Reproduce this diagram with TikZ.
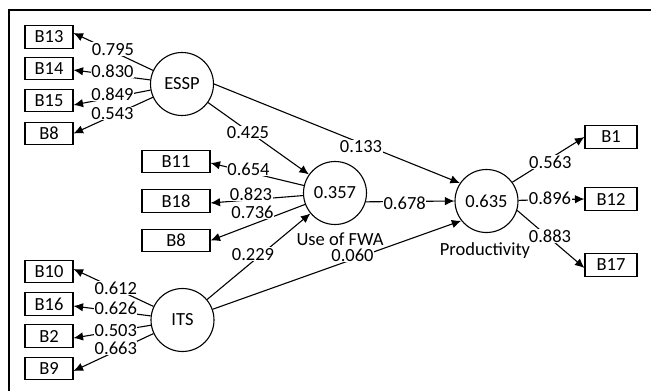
\documentclass[tikz,border=0pt]{standalone}
\usepackage{fontspec}
\setmainfont{Carlito}
\usetikzlibrary{arrows.meta}
\begin{document}
\begin{tikzpicture}[x=1pt,y=-1pt,
  every node/.style={font=\fontsize{18.5}{20}\selectfont},
  box/.style={draw,line width=1.1pt,minimum width=48pt,minimum height=22.5pt,inner sep=0pt},
  lv/.style={draw,circle,line width=1.1pt,minimum size=63pt,inner sep=0pt},
  con/.style={line width=1.1pt,-{Latex[length=9.5pt,width=8.5pt]}},
  lbl/.style={fill=white,inner sep=0.6pt,anchor=base}]
\useasboundingbox (0,0) rectangle (651,391);
\draw[line width=1.1pt] (9,391) -- (9,10) -- (651,10);
% indicators and latent variables
\node[box] (B13) at (49,37) {B13};
\node[box] (B14) at (49,68.5) {B14};
\node[box] (B15) at (49,100.5) {B15};
\node[box] (B8a) at (49,133.5) {B8};
\node[lv] (ESSP) at (182,84) {ESSP};
\node[box,minimum width=68pt] (B11) at (176,161.5) {B11};
\node[box,minimum width=68pt] (B18) at (176,201) {B18};
\node[box,minimum width=68pt] (B8b) at (176,240.5) {B8};
\node[lv] (UFWA) at (335,193) {0.357};
\node[lv] (PROD) at (486.5,201) {0.635};
\node[lv] (ITS) at (182.5,320) {ITS};
\node[box] (B10) at (49,271.5) {B10};
\node[box] (B16) at (49,304) {B16};
\node[box] (B2) at (49,336) {B2};
\node[box] (B9) at (49,368.5) {B9};
\node[box,minimum width=52pt] (B1) at (611,137) {B1};
\node[box,minimum width=52pt] (B12) at (611,199) {B12};
\node[box,minimum width=52pt] (B17) at (611,265) {B17};
\node[anchor=base] (uname) at (340,245) {Use of FWA};
\node[anchor=base] (pname) at (485,255) {Productivity};
% connectors
\draw[con] (ESSP) -- ([yshift=4pt]B13.east);
\draw[con] (ESSP) -- ([yshift=-1.5pt]B14.east);
\draw[con] (ESSP) -- ([yshift=-4.5pt]B15.east);
\draw[con] (ESSP) -- (B8a.east);
\draw[con] (ESSP) -- (UFWA);
\draw[con] (ESSP.east) -- (PROD.146);
\draw[con] (UFWA) -- ([yshift=-1.5pt]B11.east);
\draw[con] (UFWA) -- ([yshift=-2pt]B18.east);
\draw[con] (UFWA) -- (B8b.east);
\draw[con] (UFWA.-16) -- (PROD.west);
\draw[con] (ITS) -- (UFWA);
\draw[con] (ITS) -- (PROD.218);
\draw[con] (ITS) -- ([yshift=2.5pt]B10.east);
\draw[con] (ITS) -- ([yshift=-2pt]B16.east);
\draw[con] (ITS) -- ([yshift=-2pt]B2.east);
\draw[con] (ITS) -- ([yshift=-2.5pt]B9.east);
\draw[con] (PROD.36) -- (B1.west);
\draw[con] (PROD) -- (B12.west);
\draw[con] (PROD.-17) -- ([yshift=-3pt]B17.west);
% path labels
\node[lbl] (l13) at (113,55) {0.795};
\node[lbl] (l14) at (112.5,77.3) {0.830};
\node[lbl] (l15) at (112.5,100) {0.849};
\node[lbl] (l8a) at (112.5,119.3) {0.543};
\node[lbl] (lEU) at (248,138.3) {0.425};
\node[lbl] (l11) at (248.5,175.7) {0.654};
\node[lbl] (l18) at (251,200) {0.823};
\node[lbl] (l8b) at (252.5,218.3) {0.736};
\node[lbl] (lIU) at (253,260) {0.229};
\node[lbl] (l10) at (115.8,294) {0.612};
\node[lbl] (l16) at (115.8,314) {0.626};
\node[lbl] (l2) at (115.8,336.7) {0.503};
\node[lbl] (l9) at (115.8,354) {0.663};
\node[lbl] (lEP) at (361,152.7) {0.133};
\node[lbl] (lUP) at (404.7,209.3) {0.678};
\node[lbl] (lIP) at (352.5,261.7) {0.060};
\node[lbl] (l1) at (550.3,168.3) {0.563};
\node[lbl] (l12) at (550,204.3) {0.896};
\node[lbl] (l17) at (550,242.7) {0.883};
\end{tikzpicture}
\end{document}
